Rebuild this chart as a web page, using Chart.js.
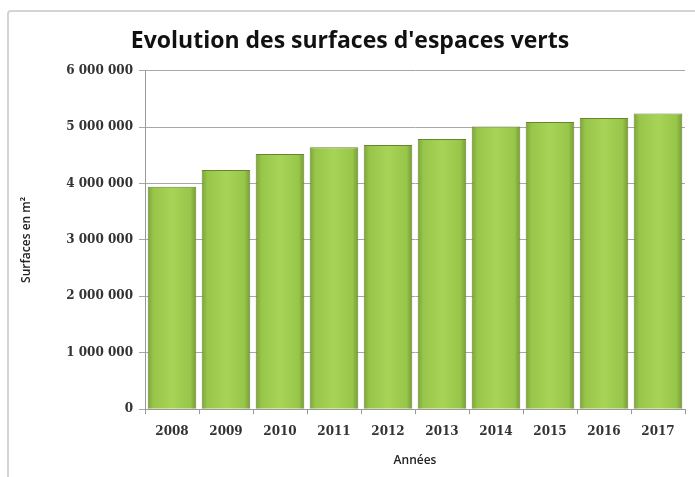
<!DOCTYPE html>
<html>
<head>
<meta charset="utf-8">
<script src="https://cdn.jsdelivr.net/npm/chart.js@4/dist/chart.umd.min.js"></script>
<style>
  html, body { margin: 0; padding: 0; background: #fff; }
  #wrap { position: relative; width: 695px; height: 477px; }
  #frame { position: absolute; left: 7px; top: 10px; width: 700px; height: 480px;
           border: 2px solid #d4d4d4; border-radius: 4px; box-sizing: border-box; }
  canvas { position: absolute; left: 0; top: 0; }
</style>
</head>
<body>
<div id="wrap">
  <div id="frame"></div>
  <canvas id="chart" width="695" height="477"></canvas>
</div>
<script>
// years on the x axis
const years = ["2008","2009","2010","2011","2012","2013","2014","2015","2016","2017"];
// surfaces d'espaces verts (m2)
const surfaces = [3940000, 4240000, 4520000, 4640000, 4680000, 4790000, 5010000, 5090000, 5160000, 5240000];
const yTicks = [0, 1000000, 2000000, 3000000, 4000000, 5000000, 6000000];
const barPct = 0.9;

function formatNumber(v)
{
	return String(v).replace(/\B(?=(\d{3})+(?!\d))/g, " ");
}

// horizontal gradient on each bar, worked out from the x scale
function barGradient(ctx)
{
	let xs = ctx.chart.scales.x;
	if (!xs || !xs.width) return "#9cc84b";
	let w = xs.width / years.length * barPct;
	let xc = xs.getPixelForValue(ctx.dataIndex);
	let g = ctx.chart.ctx.createLinearGradient(xc - w / 2, 0, xc + w / 2, 0);
	g.addColorStop(0, "#7ea338");
	g.addColorStop(0.12, "#98c64a");
	g.addColorStop(0.5, "#a8d456");
	g.addColorStop(0.88, "#98c64a");
	g.addColorStop(1, "#759a33");
	return g;
}

new Chart("chart", {
	type: "bar",
	data: {
		labels: years,
		datasets: [{
			data: surfaces,
			backgroundColor: barGradient,
			borderColor: "#66852e",
			borderWidth: 1,
			barPercentage: barPct,
			categoryPercentage: 1.0
		}]
	},
	options: {
		responsive: false,
		animation: false,
		layout: { padding: { left: 15, right: 10, top: 8, bottom: 5 } },
		plugins: {
			legend: { display: false },
			tooltip: { enabled: false },
			title: {
				display: true,
				text: "Evolution des surfaces d'espaces verts",
				color: "#111",
				font: { family: "Open Sans", size: 23, weight: "bold" },
				padding: { top: 20, bottom: 15 }
			}
		},
		scales: {
			x: {
				offset: true,
				grid: { offset: true, drawOnChartArea: false, drawTicks: true, tickLength: 5, color: "#999" },
				border: { color: "#999", width: 1 },
				ticks: { color: "#333", padding: 10, font: { family: "DejaVu Serif", size: 12, weight: "bold" } },
				title: { display: true, text: "Années", color: "#222", padding: { top: 5 },
					font: { family: "Open Sans", size: 12, weight: "600" } }
			},
			y: {
				min: 0,
				max: 6000000,
				afterBuildTicks: (axis) => { axis.ticks = yTicks.map(v => ({ value: v })); },
				afterFit: (axis) => { axis.width = 130; },
				grid: { color: "#a8a8a8", tickLength: 6, lineWidth: 1 },
				border: { color: "#999", width: 1 },
				ticks: {
					color: "#333",
					padding: 6,
					font: { family: "DejaVu Serif", size: 12, weight: "bold" },
					callback: (v) => formatNumber(v)
				},
				title: { display: true, text: "Surfaces en m²", color: "#222", padding: { bottom: 6 },
					font: { family: "Open Sans", size: 12, weight: "600" } }
			}
		}
	}
});
</script>
</body>
</html>
